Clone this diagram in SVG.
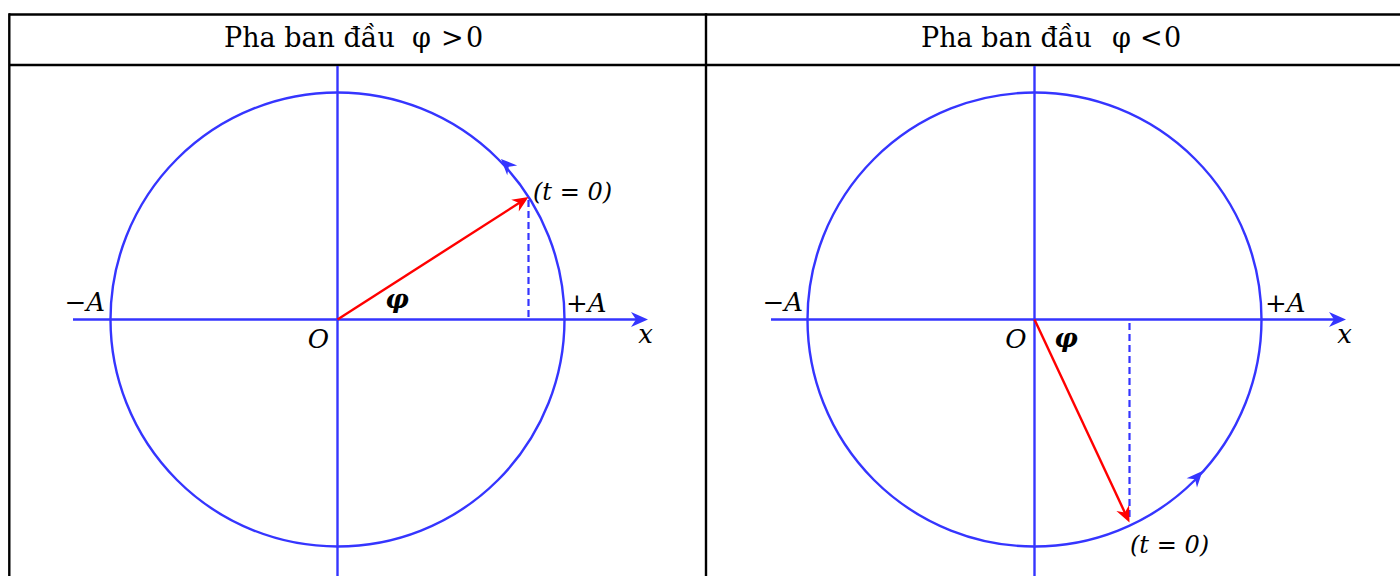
<svg xmlns="http://www.w3.org/2000/svg" width="1400" height="576" viewBox="0 0 1400 576">
<style>
.tbl{stroke:#000;stroke-width:2.4;fill:none}
.ax{stroke:#3535ff;stroke-width:2.4;fill:none}
.circ{stroke:#3535ff;stroke-width:2.4;fill:none}
.dash{stroke:#3535ff;stroke-width:2.2;fill:none;stroke-dasharray:7 4}
.vec{stroke:#f00;stroke-width:2.4;fill:none}
.bh{fill:#3535ff}
.rh{fill:#f00}
.hd{font-family:"DejaVu Serif","Liberation Serif",serif;font-size:27px;fill:#000}
.lb{font-family:"DejaVu Serif","Liberation Serif",serif;font-style:italic;font-size:26px;fill:#000}
.lt{font-family:"DejaVu Serif","Liberation Serif",serif;font-style:italic;font-size:24px;fill:#000}
</style>
<defs>
<path id="ah" d="M0,0 L-17,-7.5 L-12,0 L-17,7.5 Z"/>
<path id="ahs" d="M0,0 L-16,-7 L-11,0 L-16,7 Z"/>
</defs>
<rect width="1400" height="576" fill="#fff"/>
<g id="table">
<line class="tbl" x1="9" y1="14.5" x2="1400" y2="14.5"/>
<line class="tbl" x1="9" y1="65" x2="1400" y2="65"/>
<line class="tbl" x1="9.3" y1="13.3" x2="9.3" y2="576"/>
<line class="tbl" x1="706" y1="13.3" x2="706" y2="576"/>
<text class="hd" x="224" y="47">Pha ban đầu<tspan x="412">φ</tspan><tspan x="441">&gt;</tspan><tspan x="466">0</tspan></text>
<text class="hd" x="921" y="47">Pha ban đầu<tspan x="1112">φ</tspan><tspan x="1140">&lt;</tspan><tspan x="1164">0</tspan></text>
</g>
<g id="left-circle">
<circle class="circ" cx="337.5" cy="319.5" r="227"/>
<use href="#ahs" class="bh" transform="translate(501,159) rotate(-134.5)"/>
</g>
<g id="right-circle">
<circle class="circ" cx="1034.5" cy="319.5" r="227"/>
<use href="#ahs" class="bh" transform="translate(1202.5,471) rotate(-48)"/>
</g>
<g id="connectors">
<line class="ax" x1="337.5" y1="66" x2="337.5" y2="576"/>
<line class="ax" x1="73" y1="319.5" x2="638" y2="319.5"/>
<use href="#ah" class="bh" transform="translate(648,319.5)"/>
<line class="dash" x1="528.5" y1="200" x2="528.5" y2="319.5"/>
<line class="vec" x1="337.5" y1="319.5" x2="521" y2="201.8"/>
<use href="#ahs" class="rh" transform="translate(528.5,197) rotate(-32.6)"/>
<line class="ax" x1="1034.5" y1="66" x2="1034.5" y2="576"/>
<line class="ax" x1="771" y1="319.5" x2="1336" y2="319.5"/>
<use href="#ah" class="bh" transform="translate(1346,319.5)"/>
<line class="dash" x1="1129.5" y1="323" x2="1129.5" y2="520"/>
<line class="vec" x1="1034.5" y1="319.5" x2="1125.7" y2="514.4"/>
<use href="#ahs" class="rh" transform="translate(1129.5,522.5) rotate(65)"/>
</g>
<g id="labels-left">
<text class="lb" x="105" y="311" text-anchor="end">−A</text>
<text class="lb" x="566" y="312">+A</text>
<text class="lb" x="318.5" y="348" text-anchor="middle">O</text>
<text class="lb" x="397" y="308" text-anchor="middle" font-weight="bold">φ</text>
<text class="lb" x="645.5" y="343" text-anchor="middle">x</text>
<text class="lt" x="533" y="200">(t = 0)</text>
</g>
<g id="labels-right">
<text class="lb" x="803" y="311" text-anchor="end">−A</text>
<text class="lb" x="1265" y="312">+A</text>
<text class="lb" x="1016" y="348" text-anchor="middle">O</text>
<text class="lb" x="1066" y="347" text-anchor="middle" font-weight="bold">φ</text>
<text class="lb" x="1344.5" y="343" text-anchor="middle">x</text>
<text class="lt" x="1130" y="553">(t = 0)</text>
</g>
</svg>
